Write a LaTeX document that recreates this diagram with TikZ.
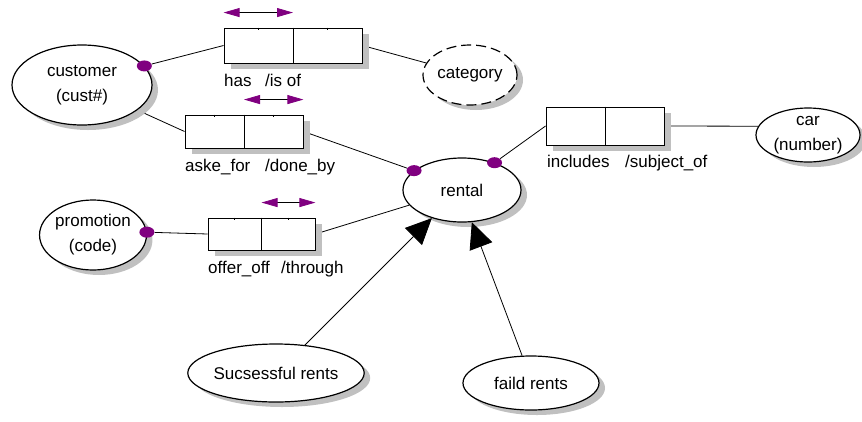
\documentclass[tikz,border=0pt]{standalone}
\usepackage{fontspec}
\setmainfont{Liberation Sans}
\usetikzlibrary{shapes.geometric,arrows.meta,shadows,calc,backgrounds}
\definecolor{dotpurple}{RGB}{128,0,128}
\definecolor{shade}{RGB}{192,192,192}
\begin{document}
\begin{tikzpicture}[x=1pt,y=-1pt,
  font=\fontsize{17}{25}\selectfont,
  ent/.style={ellipse, draw, line width=1.2pt, fill=white, inner sep=0pt, align=center,
    drop shadow={shadow xshift=6pt, shadow yshift=-5pt, fill=shade, opacity=1}},
  relbox/.style={rectangle, draw, line width=0.9pt, fill=white, inner sep=0pt,
    drop shadow={shadow xshift=7pt, shadow yshift=-6pt, fill=shade, opacity=1}},
  dot/.style={ellipse, fill=dotpurple, inner sep=0pt, minimum width=15pt, minimum height=11pt},
  link/.style={line width=0.8pt},
  isa/.style={line width=0.8pt, -{Triangle[length=26pt,width=24pt]}},
  dbl/.style={line width=0.8pt,
    {Triangle[length=16pt,width=9pt,color=dotpurple]}-{Triangle[length=16pt,width=9pt,color=dotpurple]}},
  lbl/.style={anchor=base west, inner sep=0pt}
]
\useasboundingbox (0,0) rectangle (862,421);

% entities
\node[ent, minimum width=140pt, minimum height=80pt] (cust) at (82,85) {customer\\(cust\#)};
\node[ent, dash pattern=on 10pt off 5pt, minimum width=94pt, minimum height=60pt] (cat) at (470,75) {category};
\node[ent, minimum width=118pt, minimum height=64pt] (rent) at (462,190) {rental};
\node[ent, minimum width=104pt, minimum height=54pt] (car) at (808,135) {car\\(number)};
\node[ent, minimum width=100pt, minimum height=70pt] (promo) at (93,235) {promotion\\(code)};
\node[ent, minimum width=164pt, minimum height=58pt] (succ) at (276,373) {Sucsessful rents};
\node[ent, minimum width=136pt, minimum height=54pt] (fail) at (531,383) {faild rents};

% relationship boxes
\node[relbox, minimum width=138pt, minimum height=35pt] (has) at (293,45.5) {};
\node[relbox, minimum width=118pt, minimum height=33pt] (aske) at (244,131.5) {};
\node[relbox, minimum width=118pt, minimum height=38pt] (incl) at (605,126) {};
\node[relbox, minimum width=107pt, minimum height=32pt] (offer) at (261.5,234) {};

\foreach \b in {has,aske,incl,offer}
  \draw[line width=0.9pt] (\b.north) -- (\b.south);
\foreach \b in {has,aske,offer} {
  \draw[line width=0.5pt] ($(\b.north west)!0.25!(\b.north east)$) -- ++(0,2.5);
  \draw[line width=0.5pt] ($(\b.north west)!0.75!(\b.north east)$) -- ++(0,2.5);
}

% optional-participation dots
\node[dot] (cdot) at (cust.17) {};
\node[dot] (rdotA) at (rent.158) {};
\node[dot] (rdotB) at (rent.40) {};
\node[dot] (pdot) at (promo.3) {};

% connectors behind the shadows
\begin{scope}[on background layer]
\draw[link] (cdot) -- (has.west);
\draw[link] (has.east) -- (cat);
\draw[link] (cust) -- (aske.west);
\draw[link] (aske.east) -- (rdotA);
\draw[link] (rdotB) -- (incl.west);
\draw[link] (incl.east) -- (car.170);
\draw[link] (pdot) -- (offer.west);
\draw[link] (offer.east) -- (rent.196);
\end{scope}

% subtype arrows
\draw[isa] (succ.44) -- (rent.223);
\draw[isa] (fail.108) -- (rent.287);

% reading-direction arrows
\coordinate (hasL) at ($(has.north west)+(0,-15)$);
\coordinate (hasR) at ($(has.north)+(0,-15)$);
\coordinate (askeL) at ($(aske.north)+(0,-15)$);
\coordinate (askeR) at ($(aske.north east)+(0,-15)$);
\coordinate (offL) at ($(offer.north)+(0,-15)$);
\coordinate (offR) at ($(offer.north east)+(0,-15)$);
\draw[dbl] (hasL) -- (hasR);
\draw[dbl] (askeL) -- (askeR);
\draw[dbl] (offL) -- (offR);

% role labels
\node[lbl] (hasT) at (224,86) {has};
\node[lbl] (isofT) at (265,86) {/is of};
\node[lbl] (askeT) at (185,171) {aske\_for};
\node[lbl] (doneT) at (265,171) {/done\_by};
\node[lbl] (inclT) at (547,167) {includes};
\node[lbl] (subjT) at (625,167) {/subject\_of};
\node[lbl] (offT) at (208,273) {offer\_off};
\node[lbl] (thruT) at (281,273) {/through};
\end{tikzpicture}
\end{document}
